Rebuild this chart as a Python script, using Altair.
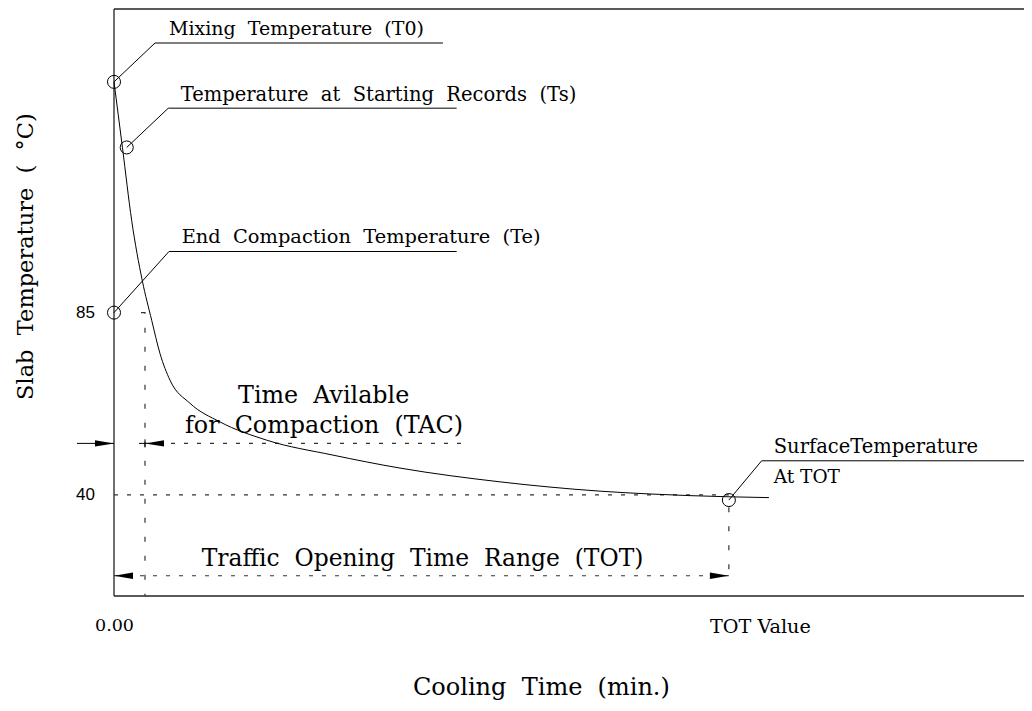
import altair as alt
import pandas as pd

# ---------------- data (schematic units: minutes / deg C) ----------------
X_MAX = 148.0
Y_MIN, Y_MAX = 15.0, 160.0

curve_time = [0, 1.38, 2.88, 4.60, 6.13, 7.48, 9.11, 12.36, 17.24, 24.83,
              35.62, 46.51, 62.77, 79.04, 87.17, 100.18, 106.52]
curve_temp = [142.0, 125.7, 107.7, 92.9, 83.1, 74.9, 68.3, 62.6, 58.0, 53.5,
              49.8, 46.6, 43.2, 40.9, 40.2, 39.5, 39.3]

T0 = 142.0          # mixing temperature
TS_TIME, TS = 2.07, 125.8   # temperature at starting records
TE = 85.0           # end compaction temperature
TAC_END = 5.04      # time available for compaction
TAC_LEVEL = 52.7
TOT = 100.0         # traffic opening time
T_TOT = 38.7        # surface temperature at TOT
TOT_LEVEL = 20.0
T40 = 40.0

marker_time = [0, TS_TIME, 0, TOT]
marker_temp = [T0, TS, TE, T_TOT]

# leader lines: (circle) -> elbow -> end of underline
leader_T0 = [(0, T0), (6.67, 151.6), (53.5, 151.6)]
leader_Ts = [(TS_TIME, TS), (8.83, 135.5), (55.73, 135.5)]
leader_Te = [(0, TE), (8.94, 100.1), (55.73, 100.1)]
leader_TOT = [(TOT, T_TOT), (105.33, 48.4), (X_MAX, 48.4)]

W = " \u00a0"   # wide word gap, as in the drawing
label_text = [W.join(["Mixing", "Temperature", "(T0)"]),
              W.join(["Temperature", "at", "Starting", "Records", "(Ts)"]),
              W.join(["End", "Compaction", "Temperature", "(Te)"]),
              "SurfaceTemperature", "At TOT",
              W.join(["Time", "Avilable"]),
              W.join(["for", "Compaction", "(TAC)"]),
              W.join(["Traffic", "Opening", "Time", "Range", "(TOT)"]),
              "0.00", "TOT Value",
              W.join(["Cooling", "Time", "(min.)"])]
label_time = [8.94, 10.85, 11.0, 107.3, 107.3, 20.17, 11.55, 14.26, -3.09, 96.93, 48.63]
label_temp = [153.5, 137.3, 102.1, 50.4, 42.8, 62.6, 55.3, 22.5, 6.37, 5.88, -9.41]
label_size = [19.0, 19.5, 19.4, 19.5, 18.5, 23.8, 23.8, 23.4, 17.5, 19.2, 24.0]

tick_values = [85, 40]
tick_labels = ["85", "40"]

y_title = W.join(["Slab", "Temperature", "(", "\u00b0C)"])

FONT = "DejaVu Serif"

# ---------------- tables ----------------
xs = alt.Scale(domain=[0, X_MAX], zero=False, nice=False)
ys = alt.Scale(domain=[Y_MIN, Y_MAX], zero=False, nice=False)


def X(f="x"):
    return alt.X(f + ":Q", scale=xs, axis=None)


def Y(f="y"):
    return alt.Y(f + ":Q", scale=ys, axis=None)


def segs(named):
    rows = []
    for name, pts in named:
        for i, (x, y) in enumerate(pts):
            rows.append({"seg": name, "i": i, "x": x, "y": y})
    return pd.DataFrame(rows)


curve_df = pd.DataFrame({"x": curve_time, "y": curve_temp})
marker_df = pd.DataFrame({"x": marker_time, "y": marker_temp})

solid_df = segs([
    ("l0", leader_T0), ("l1", leader_Ts), ("l2", leader_Te), ("l3", leader_TOT),
    ("a0", [(-6.02, TAC_LEVEL), (0, TAC_LEVEL)]),
    ("a1", [(4.07, TAC_LEVEL), (TAC_END, TAC_LEVEL)]),
    ("a2", [(TAC_END, TAC_LEVEL - 1.0), (TAC_END, TAC_LEVEL + 1.0)]),
])

frame_df = segs([
    ("left", [(0, Y_MIN), (0, Y_MAX)]),
    ("top", [(0, Y_MAX), (X_MAX, Y_MAX)]),
    ("bottom", [(0, Y_MIN), (X_MAX, Y_MIN)]),
])

dot_h_df = segs([
    ("tac", [(TAC_END, TAC_LEVEL), (57.08, TAC_LEVEL)]),
    ("t40", [(0, T40), (TOT, T40)]),
    ("tot", [(0, TOT_LEVEL), (TOT, TOT_LEVEL)]),
])

dot_v_df = segs([
    ("vtac", [(4.39, TE), (TAC_END, TE), (TAC_END, Y_MIN)]),
    ("vtot", [(TOT, 36.9), (TOT, 18.2)]),
])

arrow_df = pd.DataFrame({
    "x": [0, TAC_END, 0, TOT],
    "y": [TAC_LEVEL, TAC_LEVEL, TOT_LEVEL, TOT_LEVEL],
    "dir": ["r", "l", "l", "r"],
})

label_df = pd.DataFrame({"x": label_time, "y": label_temp,
                         "t": label_text, "fs": label_size})
tick_df = pd.DataFrame({"x": [-3.09] * len(tick_values), "y": tick_values,
                        "t": tick_labels})
ytitle_df = pd.DataFrame({"x": [-13.2], "y": [98.85], "t": [y_title]})

# ---------------- layers ----------------
frame = alt.Chart(frame_df).mark_line(color="#222", strokeWidth=1.3).encode(
    x=X(), y=Y(), detail="seg:N", order="i:Q")

solid = alt.Chart(solid_df).mark_line(color="black", strokeWidth=1).encode(
    x=X(), y=Y(), detail="seg:N", order="i:Q")

dot_h = alt.Chart(dot_h_df).mark_line(color="#333", strokeWidth=1.2,
                                      strokeDash=[4, 9]).encode(
    x=X(), y=Y(), detail="seg:N", order="i:Q")

dot_v = alt.Chart(dot_v_df).mark_line(color="#333", strokeWidth=1.2,
                                      strokeDash=[5, 14]).encode(
    x=X(), y=Y(), detail="seg:N", order="i:Q")

curve = alt.Chart(curve_df).mark_line(color="black", strokeWidth=1,
                                      interpolate="monotone").encode(
    x=X(), y=Y())

markers = alt.Chart(marker_df).mark_point(shape="circle", filled=False,
                                          size=170, color="black",
                                          strokeWidth=1, opacity=1).encode(
    x=X(), y=Y())

R_PATH = "M0,0L-1,-0.17L-1,0.17Z"
L_PATH = "M0,0L1,-0.17L1,0.17Z"
arrows = alt.Chart(arrow_df).mark_point(filled=True, size=1444, color="black",
                                        strokeWidth=0, opacity=1).encode(
    x=X(), y=Y(),
    shape=alt.Shape("dir:N", scale=alt.Scale(domain=["r", "l"],
                                             range=[R_PATH, L_PATH]),
                    legend=None))

labels = alt.Chart(label_df).mark_text(font=FONT, align="left",
                                       baseline="alphabetic",
                                       color="black").encode(
    x=X(), y=Y(), text="t:N", size=alt.Size("fs:Q", scale=None))

ticks = alt.Chart(tick_df).mark_text(font="Liberation Sans", fontSize=17,
                                     align="right", baseline="middle",
                                     color="black").encode(
    x=X(), y=Y(), text="t:N")

ytitle = alt.Chart(ytitle_df).mark_text(font=FONT, fontSize=22.5, angle=270,
                                        align="center", baseline="alphabetic",
                                        color="black").encode(
    x=X(), y=Y(), text="t:N")

chart = alt.layer(frame, dot_h, dot_v, solid, curve, markers, arrows,
                  labels, ticks, ytitle).properties(
    width=910, height=587,
    padding={"left": 106, "top": 1, "right": 0, "bottom": 105},
    autosize=alt.AutoSizeParams(type="none"),
    background="white",
).configure_view(strokeWidth=0)

chart.save("out.html", embed_options={"renderer": "svg", "actions": False})
